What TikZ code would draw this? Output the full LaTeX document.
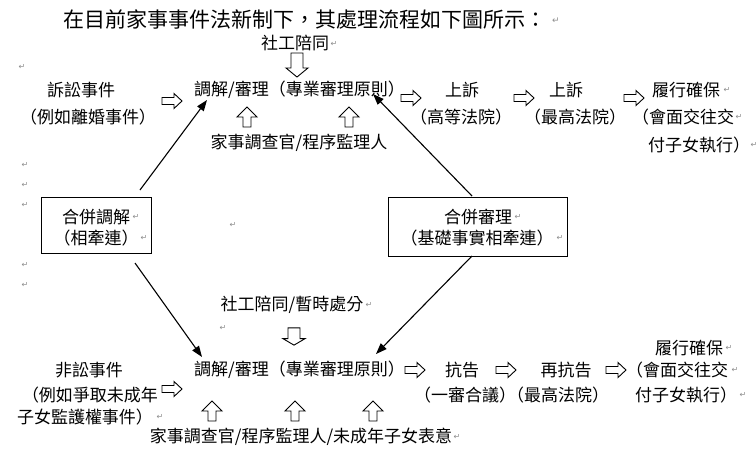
\documentclass[tikz,border=0pt]{standalone}
\usepackage{fontspec}
\setmainfont{Noto Sans CJK TC}
\newfontfamily\markfont{DejaVu Sans}
\usetikzlibrary{arrows.meta}
\tikzset{
  txt/.style={inner sep=0pt, font=\fontsize{17}{20}\selectfont},
  ttl/.style={inner sep=0pt, font=\fontsize{21}{25}\selectfont},
  rmk/.style={inner sep=0pt, text=black!45, font=\markfont\fontsize{8}{9}\selectfont},
  boxn/.style={draw, line width=1pt, inner sep=0pt},
  conn/.style={line width=1.1pt, -{Triangle[length=11pt,width=8pt]}},
  hol/.style={draw, line width=0.9pt, fill=white, line join=miter},
  rarr/.pic={\draw[hol] (-10,-3.5) -- (2,-3.5) -- (2,-7.5) -- (10,0) -- (2,7.5) -- (2,3.5) -- (-10,3.5) -- cycle;},
  uarr/.pic={\draw[hol] (-4,10) -- (-4,0) -- (-10,0) -- (0,-10) -- (10,0) -- (4,0) -- (4,10) -- cycle;},
  darr/.pic={\draw[hol] (-6,-12) -- (6,-12) -- (6,3) -- (11,3) -- (0,12) -- (-11,3) -- (-6,3) -- cycle;}
}
\begin{document}
\begin{tikzpicture}[x=1pt,y=-1pt]
\useasboundingbox (0,0) rectangle (756,464);
% title
\node[ttl, anchor=west] (t0) at (63,19) {在目前家事事件法新制下，其處理流程如下圖所示：};
% upper section
\node[txt] (s1) at (295,43) {社工陪同};
\pic at (297,65) {darr};
\node[txt] (a1) at (81,90) {訴訟事件};
\node[txt] (a2) at (88,117) {（例如離婚事件）};
\pic at (172,101) {rarr};
\node[txt, anchor=west] (m1) at (194,90) {調解/審理（專業審理原則）};
\pic at (247,117) {uarr};
\pic at (349,117) {uarr};
\node[txt] (j1) at (299,143) {家事調查官/程序監理人};
\pic at (411,98) {rarr};
\node[txt] (u1) at (462,90) {上訴};
\node[txt] (u2) at (461,117) {（高等法院）};
\pic at (524,98) {rarr};
\node[txt] (u3) at (566,90) {上訴};
\node[txt] (u4) at (575,117) {（最高法院）};
\pic at (634,98) {rarr};
\node[txt] (e1) at (686,90) {履行確保};
\node[txt] (e2) at (683,117) {（會面交往交};
\node[txt] (e3) at (699,145) {付子女執行）};
% boxes
\node[boxn, minimum width=110pt, minimum height=56pt] (lb) at (96,225) {};
\node[txt] (lb1) at (96,217) {合併調解};
\node[txt] (lb2) at (96,238) {（相牽連）};
\node[boxn, minimum width=179pt, minimum height=59pt] (rb) at (477.5,226.5) {};
\node[txt] (rb1) at (478,217) {合併審理};
\node[txt] (rb2) at (477,238) {（基礎事實相牽連）};
% lower section
\node[txt] (s2) at (292,305) {社工陪同/暫時處分};
\pic[yscale=0.72] at (294,336.5) {darr};
\node[txt] (b1) at (89,370) {非訟事件};
\node[txt] (b2) at (90,395) {（例如爭取未成年};
\node[txt] (b3) at (85,417) {子女監護權事件）};
\pic at (172,389) {rarr};
\node[txt, anchor=west] (m2) at (194,370) {調解/審理（專業審理原則）};
\pic at (212,411) {uarr};
\pic at (295,411) {uarr};
\pic at (373,411) {uarr};
\node[txt] (j2) at (301,437) {家事調查官/程序監理人/未成年子女表意};
\pic at (415,370) {rarr};
\node[txt] (k1) at (462,370) {抗告};
\node[txt] (k2) at (465,395) {（一審合議）};
\pic at (506,370) {rarr};
\node[txt] (k3) at (566,370) {再抗告};
\node[txt] (k4) at (558,395) {（最高法院）};
\pic at (616,370) {rarr};
\node[txt] (f1) at (689,348) {履行確保};
\node[txt] (f2) at (677,370) {（會面交往交};
\node[txt] (f3) at (686,395) {付子女執行）};
% connectors
\coordinate (c1s) at (140,190); \coordinate (c1e) at (207,100);
\coordinate (c2s) at (472,196); \coordinate (c2e) at (373,94);
\coordinate (c3s) at (135,263); \coordinate (c3e) at (202,357);
\coordinate (c4s) at (472,256); \coordinate (c4e) at (376,354);
\draw[conn] (c1s) -- (c1e);
\draw[conn] (c2s) -- (c2e);
\draw[conn] (c3s) -- (c3e);
\draw[conn] (c4s) -- (c4e);
% paragraph marks
\node[rmk, font=\markfont\fontsize{9}{10}\selectfont] (r0) at (556,21) {↵};
\node[rmk] (r1) at (334,44) {↵};
\node[rmk] (r2) at (22,67) {↵};
\node[rmk] (r3) at (727,90) {↵};
\node[rmk] (r4) at (739,117) {↵};
\node[rmk] (r5) at (754,145) {↵};
\node[rmk] (r6) at (25,165) {↵};
\node[rmk] (r7) at (25,185) {↵};
\node[rmk] (r8) at (25,205) {↵};
\node[rmk] (r9) at (25,265) {↵};
\node[rmk] (r10) at (25,285) {↵};
\node[rmk] (r11) at (136,217) {↵};
\node[rmk] (r12) at (144,238) {↵};
\node[rmk] (r13) at (233,225) {↵};
\node[rmk] (r14) at (518,217) {↵};
\node[rmk] (r15) at (560,238) {↵};
\node[rmk] (r16) at (369,305) {↵};
\node[rmk] (r17) at (223,328) {↵};
\node[rmk] (r18) at (160,417) {↵};
\node[rmk] (r19) at (457,437) {↵};
\node[rmk] (r20) at (729,348) {↵};
\node[rmk] (r21) at (735,370) {↵};
\node[rmk] (r22) at (743,395) {↵};
\end{tikzpicture}
\end{document}
